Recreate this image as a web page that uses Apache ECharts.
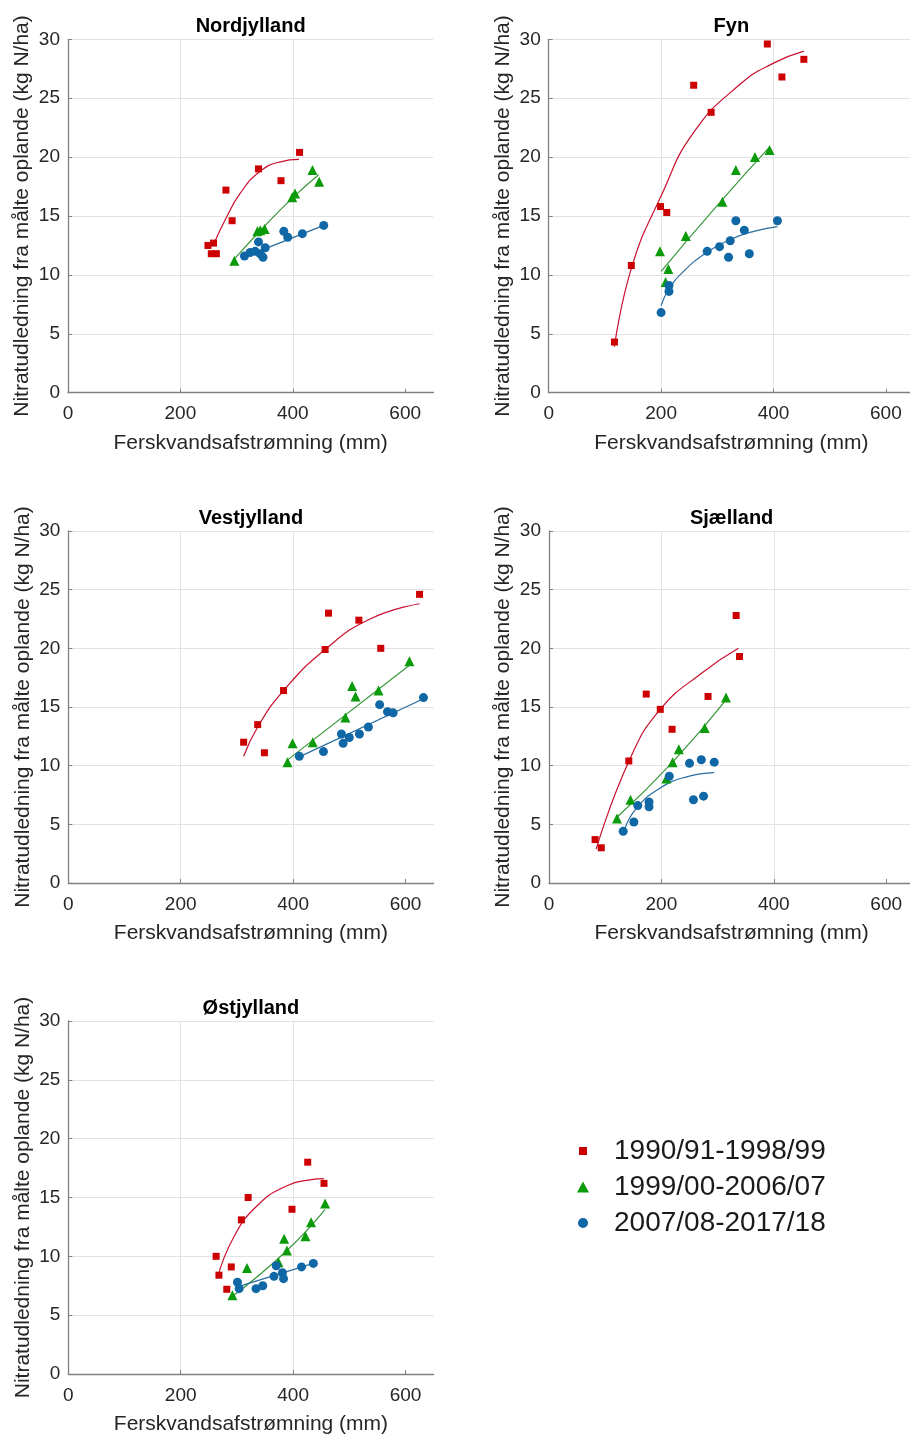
<!DOCTYPE html>
<html>
<head>
<meta charset="utf-8">
<script src="https://cdn.jsdelivr.net/npm/echarts@6/dist/echarts.min.js"></script>
<style>
html,body{margin:0;padding:0;background:#fff;}
#chart{width:910px;height:1434px;}
</style>
</head>
<body>
<div id="chart"></div>
<script>
// ---- data: [runoff mm, nitrate kg N/ha] ----
const periodNames = ['1990/91-1998/99', '1999/00-2006/07', '2007/08-2017/18'];
const regionNames = ['Nordjylland', 'Fyn', 'Vestjylland', 'Sjælland', 'Østjylland'];
const xTicks = [0, 200, 400, 600];

const nord9099 = [[249,12.5],[259,12.7],[255,11.8],[264,11.8],[281,17.2],[292,14.6],[339,19.0],[379,18.0],[412,20.4]];
const nord9907 = [[296,11.2],[337,13.7],[342,13.8],[350,13.9],[399,16.6],[404,16.9],[435,18.9],[447,17.9]];
const nord0718 = [[314,11.6],[324,11.9],[333,12.0],[339,12.8],[342,11.8],[347,11.5],[351,12.3],[384,13.7],[391,13.2],[417,13.5],[455,14.2]];
const nord9099Fit = [[261,12.8],[280,14.7],[306,16.9],[342,18.8],[378,19.6],[411,19.8]];
const nord9907Fit = [[297,11.4],[350,14.15],[401,16.6],[446,18.5]];
const nord0718Fit = [[310,11.45],[455,14.2]];

const fyn9099 = [[117,4.3],[147,10.8],[199,15.8],[210,15.3],[258,26.1],[289,23.8],[389,29.6],[415,26.8],[454,28.3]];
const fyn9907 = [[198,12.0],[213,10.5],[208,9.4],[244,13.3],[309,16.2],[333,18.9],[367,20.0],[393,20.6]];
const fyn0718 = [[200,6.8],[214,8.6],[214,9.1],[282,12.0],[304,12.4],[323,12.9],[320,11.5],[333,14.6],[348,13.8],[357,11.8],[407,14.6]];
const fyn9099Fit = [[117,3.9],[148,10.7],[201,16.8],[258,22.1],[341,26.2],[401,28.0],[454,29.0]];
const fyn9907Fit = [[200,10.3],[300,15.9],[392,20.8]];
const fyn0718Fit = [[200,7.4],[214,8.8],[240,10.3],[281,11.9],[323,13.0],[365,13.7],[407,14.1]];

const vest9099 = [[312,12.0],[337,13.5],[349,11.1],[383,16.4],[457,19.9],[463,23.0],[517,22.4],[556,20.0],[625,24.6]];
const vest9907 = [[390,10.3],[399,11.9],[435,12.0],[493,14.1],[505,16.8],[511,15.9],[552,16.4],[607,18.9]];
const vest0718 = [[411,10.8],[454,11.2],[486,12.7],[489,11.9],[500,12.4],[518,12.7],[534,13.3],[554,15.2],[568,14.6],[578,14.5],[632,15.8]];
const vest9099Fit = [[312,10.8],[337,13.3],[383,16.4],[457,19.9],[537,22.5],[625,23.8]];
const vest9907Fit = [[389,10.45],[607,18.55]];
const vest0718Fit = [[411,10.75],[632,15.7]];

const sjae9099 = [[82,3.7],[93,3.0],[142,10.4],[173,16.1],[198,14.8],[219,13.1],[283,15.9],[333,22.8],[339,19.3]];
const sjae9907 = [[121,5.5],[145,7.1],[209,8.9],[220,10.3],[231,11.4],[277,13.2],[315,15.8]];
const sjae0718 = [[132,4.4],[151,5.2],[158,6.6],[178,6.9],[178,6.5],[214,9.1],[250,10.2],[257,7.1],[271,10.5],[275,7.4],[294,10.3]];
const sjae9099Fit = [[84,2.9],[142,10.35],[198,14.8],[275,18.0],[337,20.0]];
const sjae9907Fit = [[121,5.6],[220,10.3],[315,15.6]];
const sjae0718Fit = [[134,4.5],[156,6.4],[198,8.1],[245,9.05],[294,9.4]];

const ost9099 = [[263,10.0],[268,8.4],[282,7.2],[290,9.1],[308,13.1],[320,15.0],[398,14.0],[426,18.0],[455,16.2]];
const ost9907 = [[292,6.7],[318,9.0],[374,9.5],[384,11.5],[389,10.5],[422,11.7],[432,12.9],[457,14.5]];
const ost0718 = [[301,7.8],[304,7.25],[334,7.25],[346,7.5],[366,8.3],[370,9.2],[381,8.6],[383,8.1],[415,9.1],[436,9.4]];
const ost9099Fit = [[265,8.1],[294,11.6],[336,14.3],[389,16.0],[430,16.5],[455,16.6]];
const ost9907Fit = [[292,6.6],[389,10.5],[457,14.0]];
const ost0718Fit = [[301,7.4],[436,9.4]];

// ---- assembly ----
const panels = [
  {pts:[nord9099, nord9907, nord0718], fits:[nord9099Fit, nord9907Fit, nord0718Fit]},
  {pts:[fyn9099, fyn9907, fyn0718], fits:[fyn9099Fit, fyn9907Fit, fyn0718Fit]},
  {pts:[vest9099, vest9907, vest0718], fits:[vest9099Fit, vest9907Fit, vest0718Fit]},
  {pts:[sjae9099, sjae9907, sjae0718], fits:[sjae9099Fit, sjae9907Fit, sjae0718Fit]},
  {pts:[ost9099, ost9907, ost0718], fits:[ost9099Fit, ost9907Fit, ost0718Fit]}
];
const grids = [
  {left:68, top:39.3, width:365.3, height:353.4},
  {left:548.7, top:39.3, width:365.3, height:353.4},
  {left:68.3, top:531, width:365.3, height:352},
  {left:549, top:531, width:365.3, height:352},
  {left:68.3, top:1021, width:365.3, height:353}
];
const markerColors = ['#CC0000', '#0A9A0A', '#0F67A6'];
const lineColors = ['#C8102E', '#3A963A', '#2A6C9E'];
const symbols = ['rect', 'triangle', 'circle'];
const symbolSizes = [7, 10, 9];
const FONT = '"Liberation Sans", Arial, sans-serif';

const option = {
  animation: false,
  backgroundColor: '#fff',
  grid: grids.map(g => Object.assign({outerBoundsMode:'none', containLabel:false}, g)),
  xAxis: grids.map((g, i) => ({
    type:'value', gridIndex:i, min:0, max:650, interval:200,
    name:'Ferskvandsafstrømning (mm)', nameLocation:'middle', nameGap:40, nameMoveOverlap:false,
    nameTextStyle:{fontSize:21, color:'#262626', fontFamily:FONT},
    axisLine:{show:true, onZero:false, lineStyle:{color:'#808080', width:1.3}},
    axisTick:{show:true, inside:true, length:4, lineStyle:{color:'#808080'}, customValues: xTicks},
    axisLabel:{fontSize:19, color:'#262626', fontFamily:FONT, margin:12, customValues: xTicks},
    splitLine:{show:true, showMaxLine:false, lineStyle:{color:'#E3E3E3', width:1}}
  })),
  yAxis: grids.map((g, i) => ({
    type:'value', gridIndex:i, min:0, max:30, interval:5,
    name:'Nitratudledning fra målte oplande (kg N/ha)', nameLocation:'middle', nameGap:35, nameRotate:90, nameMoveOverlap:false,
    nameTextStyle:{fontSize:21, color:'#262626', fontFamily:FONT},
    axisLine:{show:true, onZero:false, lineStyle:{color:'#808080', width:1.3}},
    axisTick:{show:true, inside:true, length:4, lineStyle:{color:'#808080'}},
    axisLabel:{fontSize:19, color:'#262626', fontFamily:FONT, margin:8},
    splitLine:{show:true, lineStyle:{color:'#E3E3E3', width:1}}
  })),
  legend: periodNames.map((name, k) => ({
    data:[{name:name, icon:symbols[k]}],
    orient:'vertical',
    left:[574, 572, 573][k],
    top:1132 + k*36,
    itemWidth:[8, 12, 10][k], itemHeight:[8, 11, 10][k],
    selectedMode:false,
    textStyle:{fontSize:28, color:'#1a1a1a', fontFamily:FONT, padding:[0,0,0,[22,20,21][k]]}
  })),
  graphic: regionNames.map((t, i) => ({
    type:'text',
    x: grids[i].left + grids[i].width/2,
    y: grids[i].top - 13,
    style:{text:t, font:'bold 20px ' + FONT, fill:'#000', align:'center', verticalAlign:'middle'}
  })),
  series: []
};

panels.forEach((p, i) => {
  p.fits.forEach((f, k) => {
    option.series.push({
      type:'line', xAxisIndex:i, yAxisIndex:i, data:f, smooth:0.5,
      showSymbol:false, symbol:'none', silent:true, z:2,
      lineStyle:{color:lineColors[k], width:1.2}
    });
  });
  p.pts.forEach((d, k) => {
    option.series.push({
      type:'scatter', name:periodNames[k], xAxisIndex:i, yAxisIndex:i, data:d,
      symbol:symbols[k], symbolSize:symbolSizes[k], z:3,
      itemStyle:{color:markerColors[k], opacity:1}
    });
  });
});

const chart = echarts.init(document.getElementById('chart'), null, {renderer:'canvas'});
chart.setOption(option);
</script>
</body>
</html>
